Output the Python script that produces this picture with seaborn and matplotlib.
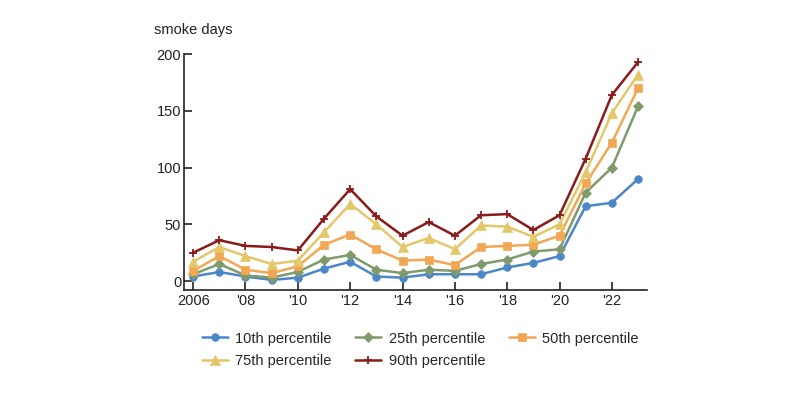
import pandas as pd
import numpy as np
from matplotlib import pyplot as plt
import seaborn as sns

years = list(range(2006, 2024))
p10 = [4, 8, 4, 1, 3, 11, 17, 4, 3, 6, 6, 6, 12, 16, 22, 66, 69, 90]
p25 = [6, 15, 5, 3, 8, 19, 23, 10, 7, 10, 9, 15, 19, 26, 28, 78, 100, 154]
p50 = [9, 22, 10, 7, 13, 32, 41, 28, 18, 19, 14, 30, 31, 32, 40, 86, 122, 170]
p75 = [17, 30, 22, 15, 18, 43, 68, 50, 30, 38, 28, 49, 48, 39, 50, 96, 148, 182]
p90 = [25, 36, 31, 30, 27, 55, 81, 57, 40, 52, 40, 58, 59, 45, 58, 108, 164, 193]
names = ['10th percentile', '25th percentile', '50th percentile',
         '75th percentile', '90th percentile']
xtick_labels = ['2006', "'08", "'10", "'12", "'14", "'16", "'18", "'20", "'22"]

# long table for seaborn
df = pd.DataFrame({'year': years * 5,
                   'days': p10 + p25 + p50 + p75 + p90,
                   'series': np.repeat(names, len(years))})

colors = ['#4a86c8', '#7f9a6b', '#f2a755', '#e3c76a', '#8b1a1a']
markers = ['o', 'D', 's', '^', '+']
msizes = [5.5, 5, 5.5, 6.5, 5.5]

sns.set_style('white')
plt.rcParams['font.family'] = ['Liberation Sans', 'DejaVu Sans']

fig = plt.figure(figsize=(8, 3.98), dpi=100)
ax = fig.add_axes([0.23, 0.271, 0.579, 0.593])

for name, c, m, ms in zip(names, colors, markers, msizes):
    sub = df[df['series'] == name]
    sns.lineplot(data=sub, x='year', y='days', color=c, marker=m, markersize=ms,
                 markeredgecolor=c, markeredgewidth=1.3 if m == '+' else 0.5,
                 linewidth=1.8, label=name, ax=ax)

ax.set_xlim(2005.65, 2023.35)
ax.set_ylim(-8, 200)
ax.set_xticks(range(2006, 2023, 2))
ax.set_xticklabels(xtick_labels)
ax.set_yticks([0, 50, 100, 150, 200])
ax.set_xlabel('')
ax.set_ylabel('')
for s in ['top', 'right']:
    ax.spines[s].set_visible(False)
for s in ['left', 'bottom']:
    ax.spines[s].set_color('#222222')
    ax.spines[s].set_linewidth(1.2)
ax.tick_params(direction='in', length=6, width=1.2, colors='#222222',
               labelsize=10.5, left=True, bottom=True)
ax.tick_params(axis='x', pad=3)
ax.tick_params(axis='y', pad=2)
fig.text(0.193, 0.925, 'smoke days', fontsize=10.5, color='#222222', ha='left', va='center')

# row-major order for the 3-column legend
handles, labels = ax.get_legend_handles_labels()
order = [0, 3, 1, 4, 2]
ax.legend([handles[i] for i in order], [labels[i] for i in order],
          loc='upper center', bbox_to_anchor=(0.51, -0.12), ncol=3, frameon=False,
          fontsize=10.5, handlelength=1.8, columnspacing=1.6, labelspacing=0.55,
          handletextpad=0.5)

plt.savefig('out.png', dpi=100)
